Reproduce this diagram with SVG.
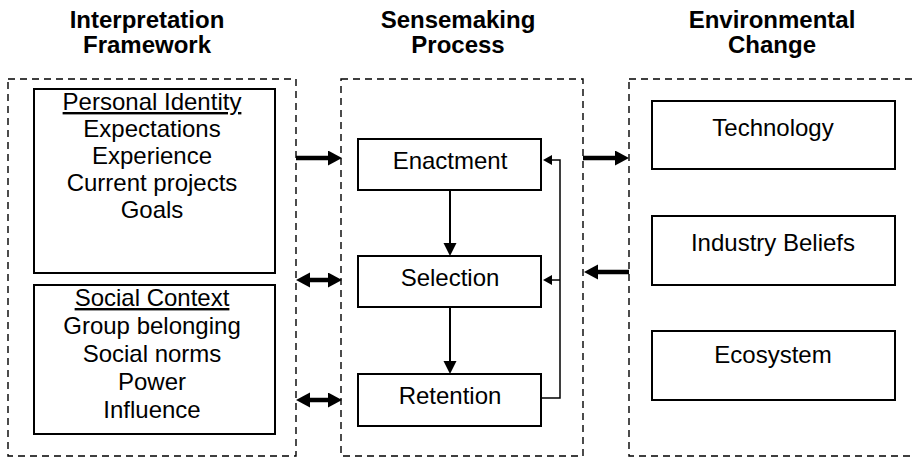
<svg xmlns="http://www.w3.org/2000/svg" width="912" height="458" viewBox="0 0 912 458">
<style>
text{font-family:"Liberation Sans",Arial,sans-serif;fill:#000;text-anchor:middle}
.t{font-size:24px;font-weight:bold}
.b{font-size:24px}
.u{text-decoration:underline}
.cont{fill:none;stroke:#000;stroke-width:1.4;stroke-dasharray:7 5}
.box{fill:#fff;stroke:#000;stroke-width:2}
.thick{stroke:#000;stroke-width:4.5;fill:none}
.thin{stroke:#000;stroke-width:2;fill:none}
.fb{stroke:#000;stroke-width:1.5;fill:none}
</style>
<defs>
<marker id="ah" markerUnits="userSpaceOnUse" markerWidth="16" markerHeight="16" refX="2" refY="7.5" orient="auto-start-reverse"><path d="M0,0 L14,7.5 L0,15 z" fill="#000"/></marker>
<marker id="am" markerUnits="userSpaceOnUse" markerWidth="14" markerHeight="14" refX="2" refY="6.5" orient="auto"><path d="M0,0 L13,6.5 L0,13 z" fill="#000"/></marker>
<marker id="as" markerUnits="userSpaceOnUse" markerWidth="12" markerHeight="12" refX="1" refY="5" orient="auto"><path d="M0,0 L9,5 L0,10 z" fill="#000"/></marker>
</defs>
<rect width="912" height="458" fill="#fff"/>

<g id="interpretation-framework">
<text class="t" x="147" y="28">Interpretation</text>
<text class="t" x="147" y="53">Framework</text>
<rect class="cont" x="8" y="79" width="288" height="377"/>
</g>
<g id="personal-identity">
<rect class="box" x="34" y="89" width="241" height="184"/>
<text class="b u" x="152" y="110">Personal Identity</text>
<text class="b" x="152" y="137">Expectations</text>
<text class="b" x="152" y="164">Experience</text>
<text class="b" x="152" y="191">Current projects</text>
<text class="b" x="152" y="218">Goals</text>
</g>
<g id="social-context">
<rect class="box" x="34" y="285" width="241" height="149"/>
<text class="b u" x="152" y="306">Social Context</text>
<text class="b" x="152" y="334">Group belonging</text>
<text class="b" x="152" y="362">Social norms</text>
<text class="b" x="152" y="390">Power</text>
<text class="b" x="152" y="418">Influence</text>
</g>

<g id="sensemaking-process">
<text class="t" x="458" y="28">Sensemaking</text>
<text class="t" x="458" y="53">Process</text>
<rect class="cont" x="341" y="79" width="242" height="377"/>
</g>
<g id="enactment">
<rect class="box" x="358" y="139" width="183" height="51"/>
<text class="b" x="450" y="169">Enactment</text>
</g>
<g id="selection">
<rect class="box" x="358" y="256" width="183" height="51"/>
<text class="b" x="450" y="286">Selection</text>
</g>
<g id="retention">
<rect class="box" x="358" y="374" width="183" height="52"/>
<text class="b" x="450" y="404">Retention</text>
</g>

<g id="environmental-change">
<text class="t" x="772" y="28">Environmental</text>
<text class="t" x="772" y="53">Change</text>
<rect class="cont" x="629" y="79" width="300" height="377"/>
</g>
<g id="technology">
<rect class="box" x="652" y="101" width="243" height="68"/>
<text class="b" x="773" y="136">Technology</text>
</g>
<g id="industry-beliefs">
<rect class="box" x="652" y="216" width="243" height="69"/>
<text class="b" x="773" y="251">Industry Beliefs</text>
</g>
<g id="ecosystem">
<rect class="box" x="652" y="331" width="243" height="69"/>
<text class="b" x="773" y="363">Ecosystem</text>
</g>

<g id="connectors">
<line class="thick" x1="296" y1="158" x2="330" y2="158" marker-end="url(#ah)"/>
<line class="thick" x1="308" y1="280" x2="330" y2="280" marker-start="url(#ah)" marker-end="url(#ah)"/>
<line class="thick" x1="308" y1="400" x2="330" y2="400" marker-start="url(#ah)" marker-end="url(#ah)"/>
<line class="thick" x1="583" y1="158" x2="617" y2="158" marker-end="url(#ah)"/>
<line class="thick" x1="629" y1="272" x2="596" y2="272" marker-end="url(#ah)"/>
<line class="thin" x1="450" y1="190" x2="450" y2="245" marker-end="url(#am)"/>
<line class="thin" x1="450" y1="307" x2="450" y2="363" marker-end="url(#am)"/>
<polyline class="fb" points="541,398 560,398 560,160 551,160" marker-end="url(#as)"/>
<line class="fb" x1="560" y1="280" x2="551" y2="280" marker-end="url(#as)"/>
</g>
</svg>
